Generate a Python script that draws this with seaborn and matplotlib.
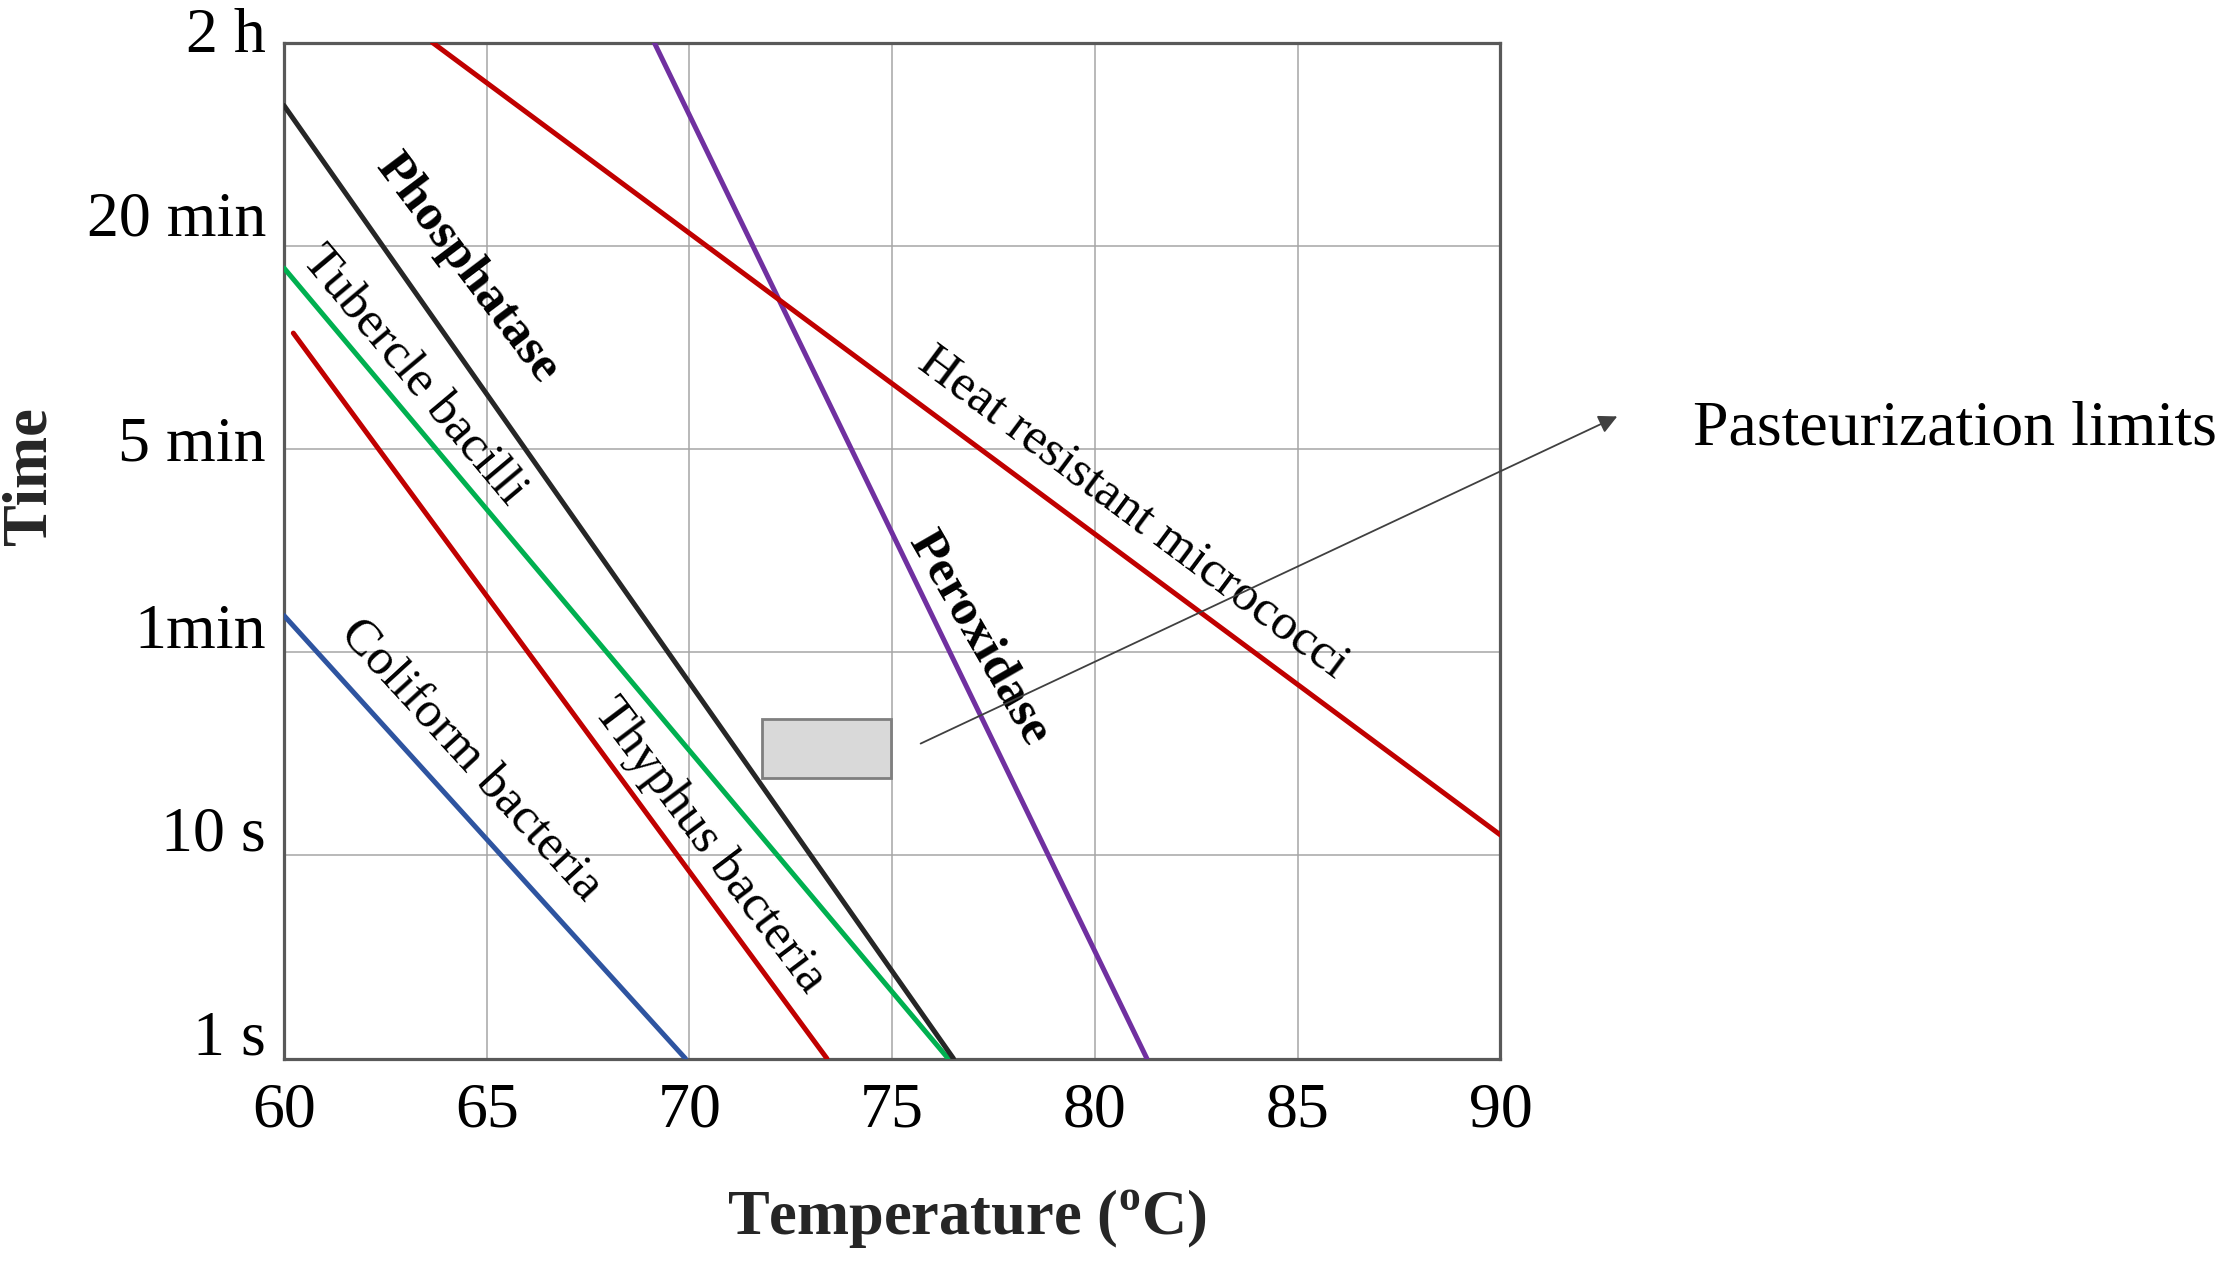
import numpy as np
import pandas as pd
import matplotlib
matplotlib.use("Agg")
import matplotlib.pyplot as plt
import matplotlib.transforms as mtrans
from matplotlib.patches import Rectangle
import seaborn as sns

# ---------------- data ----------------
organisms = ['Coliform bacteria', 'Thyphus bacteria', 'Tubercle bacilli',
             'Phosphatase', 'Peroxidase', 'Heat resistant micrococci']
temp_start = [60.0, 60.23, 60.0, 60.0, 69.13, 63.66]
temp_end = [69.9, 73.39, 76.38, 76.51, 81.28, 90.0]
time_start = [2.18, 3.57, 3.89, 4.69, 5.0, 5.0]
time_end = [0.0, 0.0, 0.0, 0.0, 0.0, 1.10]
line_colors = ['#2E54A0', '#C00000', '#00B050', '#262626', '#7030A0', '#C00000']

time_ticks = [0, 1, 2, 3, 4, 5]
time_labels = ['1 s', '10 s', '1min', '5 min', '20 min', '2 h']
temp_ticks = [60, 65, 70, 75, 80, 85, 90]

label_x = [64.59, 70.49, 63.19, 64.51, 77.12, 80.94]
label_y = [1.464, 1.046, 3.36, 3.89, 2.07, 2.686]
label_bold = [False, False, False, True, True, False]

box_temp = [71.8, 74.97]
box_time = [1.38, 1.67]
arrow_from = (75.70, 1.55)
arrow_to = (92.88, 3.16)

# ---------------- style ----------------
sns.set_theme(style='white')
plt.rcParams['font.family'] = ['Liberation Serif', 'DejaVu Serif']
plt.rcParams['mathtext.fontset'] = 'custom'
plt.rcParams['mathtext.rm'] = 'Liberation Serif'
plt.rcParams['mathtext.bf'] = 'Liberation Serif:bold'

fig = plt.figure(figsize=(22.28, 12.65), dpi=100)
ax = fig.add_axes([0.12747, 0.1632, 0.5460, 0.8032])

rows = []
for name, x0, x1, y0, y1 in zip(organisms, temp_start, temp_end, time_start, time_end):
    rows.append({'organism': name, 'temp': x0, 'time': y0})
    rows.append({'organism': name, 'temp': x1, 'time': y1})
df = pd.DataFrame(rows)
palette = dict(zip(organisms, line_colors))

sns.lineplot(data=df, x='temp', y='time', hue='organism', palette=palette,
             estimator=None, sort=False, legend=False, linewidth=3.6, ax=ax, zorder=3)

ax.set_xlim(60, 90)
ax.set_ylim(0, 5)
ax.set_xticks(temp_ticks)
ax.set_xticklabels([str(t) for t in temp_ticks])
ax.set_yticks(time_ticks)
ax.set_yticklabels(time_labels)
ax.tick_params(axis='both', length=0, labelsize=46, colors='black')
ax.tick_params(axis='x', pad=17)
ax.tick_params(axis='y', pad=13)
ax.grid(True, color='#a6a6a6', linewidth=1.1)
ax.set_axisbelow(True)
for s in ax.spines.values():
    s.set_visible(True)
    s.set_color('#595959')
    s.set_linewidth(2.3)
ax.set_xlabel('')
ax.set_ylabel('')

# shift y tick labels slightly above their gridlines as in the reference
offsets_px = [26, 27, 26, 10, 32, 13]
for lab, off in zip(ax.get_yticklabels(), offsets_px):
    lab.set_transform(lab.get_transform() +
                      mtrans.ScaledTranslation(0, off / 100.0, fig.dpi_scale_trans))

# curve labels
rotations = [-47.5, -53.0, -50.0, -53.0, -60.0, -36.7]
for name, x, y, b, r in zip(organisms, label_x, label_y, label_bold, rotations):
    ax.text(x, y, name, rotation=r, rotation_mode='anchor', ha='center', va='center',
            fontsize=37, fontweight='bold' if b else 'normal', color='black', zorder=4)

# pasteurization box
ax.add_patch(Rectangle((box_temp[0], box_time[0]), box_temp[1] - box_temp[0],
                       box_time[1] - box_time[0], facecolor='#d9d9d9',
                       edgecolor='#7f7f7f', linewidth=2.0, zorder=4))

ax.annotate('', xy=arrow_to, xytext=arrow_from, annotation_clip=False,
            arrowprops=dict(arrowstyle='-|>', color='#404040', lw=1.3,
                            mutation_scale=28, shrinkA=0, shrinkB=0), zorder=5)

fig.text(1693 / 2228, 1 - 444.6 / 1265, 'Pasteurization limits', fontsize=46,
         ha='left', va='baseline', color='black')

ax.text(0.561, -0.158, r'Temperature ($^{\mathbf{o}}$C)', transform=ax.transAxes,
        ha='center', va='center', fontsize=45, fontweight='bold')
ax.text(-0.208, 0.573, 'Time', transform=ax.transAxes, rotation=90,
        ha='center', va='center', fontsize=45, fontweight='bold')

fig.savefig('out.png', dpi=100, facecolor='white')
